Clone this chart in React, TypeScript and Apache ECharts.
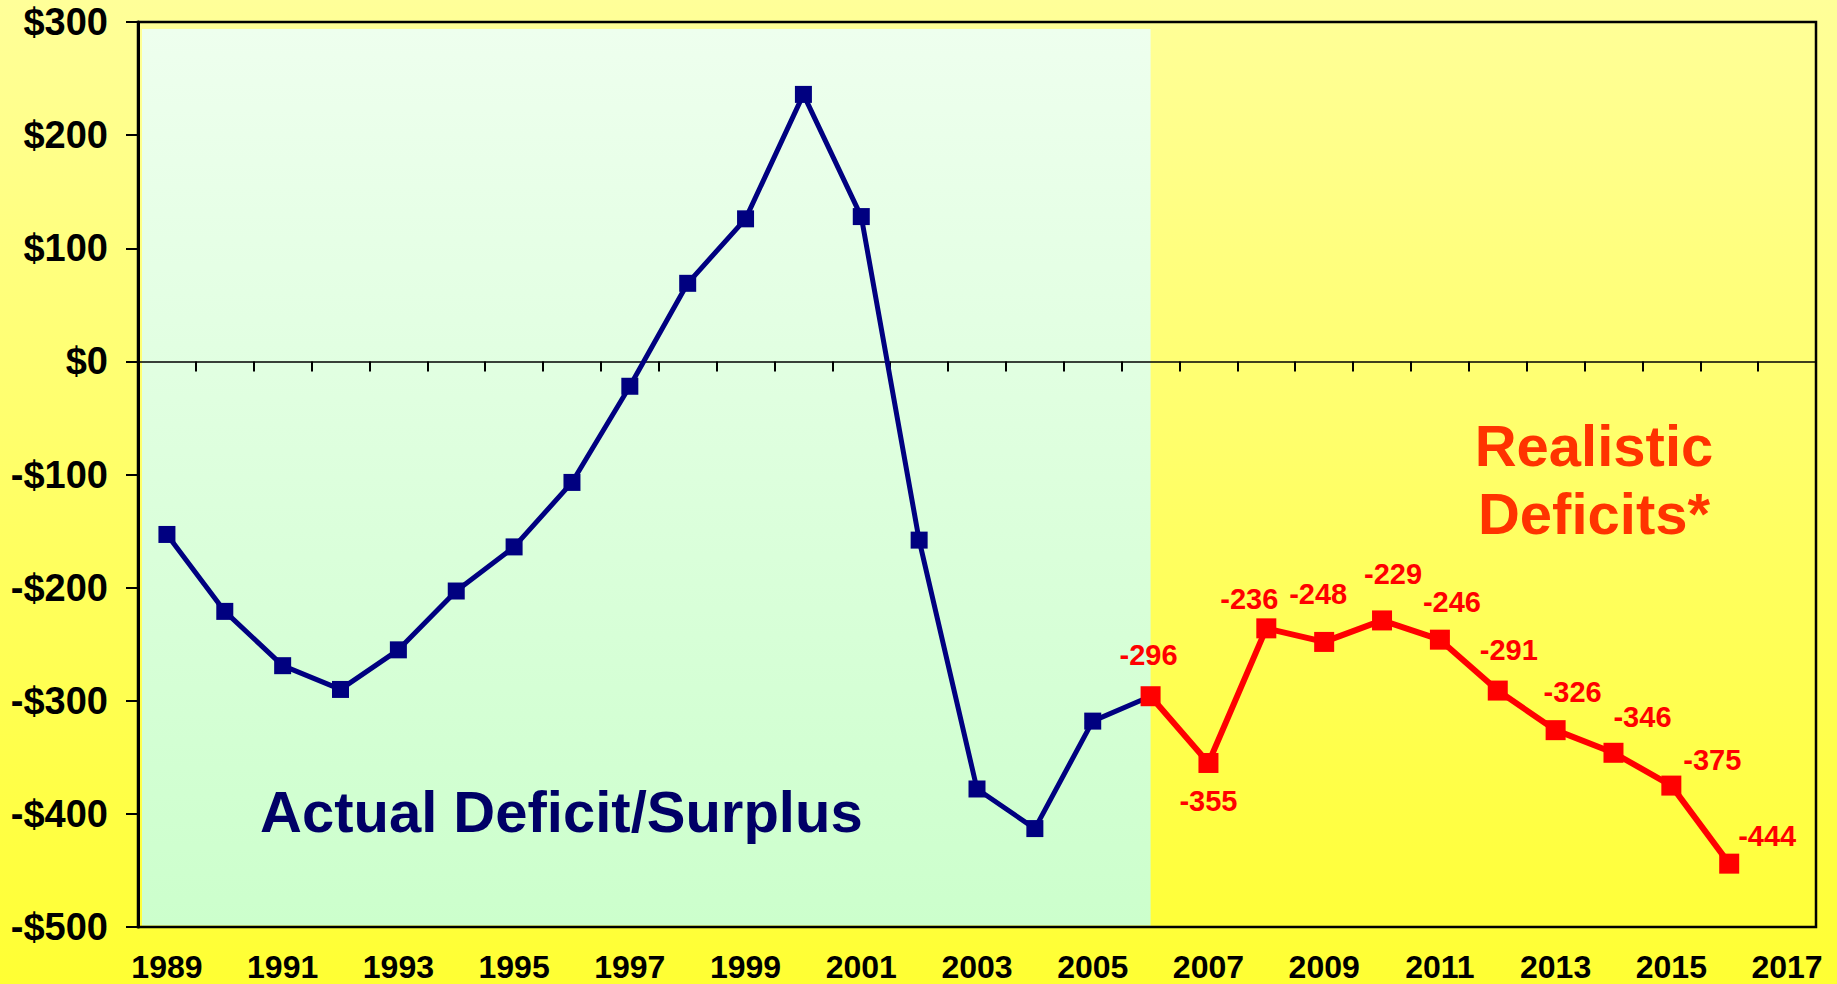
import React, { useEffect, useRef } from "react";
import * as echarts from "echarts";

// ---- data ----
const years = [
  "1989", "1990", "1991", "1992", "1993", "1994", "1995", "1996", "1997", "1998",
  "1999", "2000", "2001", "2002", "2003", "2004", "2005", "2006", "2007", "2008",
  "2009", "2010", "2011", "2012", "2013", "2014", "2015", "2016", "2017",
];
const actualYears = [
  "1989", "1990", "1991", "1992", "1993", "1994", "1995", "1996", "1997",
  "1998", "1999", "2000", "2001", "2002", "2003", "2004", "2005", "2006",
];
const actualValues = [
  -153, -221, -269, -290, -255, -203, -164, -107, -22, 69, 126, 236, 128, -158,
  -378, -413, -318, -296,
];
const realisticYears = [
  "2006", "2007", "2008", "2009", "2010", "2011", "2012", "2013", "2014", "2015", "2016",
];
const realisticValues = [-296, -355, -236, -248, -229, -246, -291, -326, -346, -375, -444];
const yMin = -500;
const yMax = 300;
const yInterval = 100;
const actualTitle = "Actual Deficit/Surplus";
const realisticTitle = ["Realistic", "Deficits*"];

// label offsets (styling) for the red data labels
const redLabelOffsets: number[][] = [
  [-2, -41], [0, 38], [-17, -29], [-6, -48], [11, -46], [12, -38],
  [11, -41], [17, -38], [29, -36], [41, -26], [38, -28],
];

const FONT = "'Liberation Sans', Arial, Helvetica, sans-serif";

export default function App() {
  const ref = useRef<HTMLDivElement>(null);

  useEffect(() => {
    if (!ref.current) return;
    const chart = echarts.init(ref.current, null, { renderer: "svg" });

    const blueData = years.map((y) => {
      const i = actualYears.indexOf(y);
      return i >= 0 ? actualValues[i] : null;
    });
    const redData = years.map((y) => {
      const i = realisticYears.indexOf(y);
      if (i < 0) return null;
      return {
        value: realisticValues[i],
        label: { offset: redLabelOffsets[i] },
      };
    });

    const gridLeft = 138;
    const gridTop = 22;
    const gridRight = 21;
    const gridBottom = 57;

    chart.setOption({
      animation: false,
      backgroundColor: "transparent",
      textStyle: { fontFamily: FONT },
      grid: {
        left: gridLeft,
        top: gridTop,
        right: gridRight,
        bottom: gridBottom,
        show: true,
        borderColor: "#000",
        borderWidth: 2.5,
        backgroundColor: "transparent",
        containLabel: false,
      },
      xAxis: [
        {
          type: "category",
          data: years,
          boundaryGap: true,
          position: "bottom",
          axisLine: { show: false, onZero: false },
          axisTick: { show: false },
          axisLabel: {
            interval: 1,
            fontSize: 32,
            fontWeight: "bold",
            color: "#000",
            fontFamily: FONT,
            margin: 24,
          },
          splitLine: { show: false },
        },
        {
          type: "category",
          data: years,
          boundaryGap: true,
          position: "top",
          axisLine: { show: true, onZero: true, lineStyle: { color: "#000", width: 1.5 } },
          axisTick: { show: true, inside: true, length: 10, interval: 0, lineStyle: { color: "#000", width: 2 } },
          axisLabel: { show: false },
          splitLine: { show: false },
        },
      ],
      yAxis: {
        type: "value",
        min: yMin,
        max: yMax,
        interval: yInterval,
        axisLine: { show: true, lineStyle: { color: "#000", width: 3 } },
        axisTick: { show: true, length: 12, lineStyle: { color: "#000", width: 2 } },
        axisLabel: {
          fontSize: 38,
          fontWeight: "bold",
          color: "#000",
          fontFamily: FONT,
          margin: 30,
          formatter: (v: number) => (v < 0 ? `-$${-v}` : `$${v}`),
        },
        splitLine: { show: false },
      },
      series: [
        {
          type: "line",
          name: "Actual",
          xAxisIndex: 0,
          data: blueData,
          symbol: "rect",
          symbolSize: 17,
          connectNulls: false,
          lineStyle: { color: "#000080", width: 5 },
          itemStyle: { color: "#000080" },
          z: 3,
        },
        {
          type: "line",
          name: "Realistic",
          xAxisIndex: 0,
          data: redData,
          symbol: "rect",
          symbolSize: 20,
          connectNulls: false,
          lineStyle: { color: "#FF0000", width: 6 },
          itemStyle: { color: "#FF0000" },
          label: {
            show: true,
            position: "inside",
            formatter: "{c}",
            fontSize: 29,
            fontWeight: "bold",
            color: "#FF0000",
            fontFamily: FONT,
          },
          z: 4,
        },
      ],
    });

    const x2006 = chart.convertToPixel({ xAxisIndex: 0 }, "2006") as number;
    const plotBottom = 984 - gridBottom;

    chart.setOption({
      graphic: [
        {
          type: "rect",
          silent: true,
          z: -10,
          shape: { x: gridLeft + 4, y: gridTop + 7, width: x2006 - gridLeft - 4, height: plotBottom - gridTop - 8.5 },
          style: {
            fill: new echarts.graphic.LinearGradient(0, 0, 0, 1, [
              { offset: 0, color: "#EEFFEE" },
              { offset: 1, color: "#CCFFCC" },
            ]),
          },
        },
        {
          type: "text",
          silent: true,
          z: 10,
          style: {
            x: 260,
            y: 811,
            text: actualTitle,
            fill: "#000066",
            font: `bold 58px ${FONT}`,
            textAlign: "left",
            verticalAlign: "middle",
          },
        },
        {
          type: "text",
          silent: true,
          z: 10,
          style: {
            x: 1594,
            y: 445,
            text: realisticTitle[0],
            fill: "#FF3300",
            font: `bold 58px ${FONT}`,
            textAlign: "center",
            verticalAlign: "middle",
          },
        },
        {
          type: "text",
          silent: true,
          z: 10,
          style: {
            x: 1594,
            y: 513,
            text: realisticTitle[1],
            fill: "#FF3300",
            font: `bold 58px ${FONT}`,
            textAlign: "center",
            verticalAlign: "middle",
          },
        },
      ],
    });

    return () => chart.dispose();
  }, []);

  return (
    <div
      ref={ref}
      style={{
        position: "absolute",
        left: 0,
        top: 0,
        width: 1837,
        height: 984,
        background: "linear-gradient(to bottom, #FFFF99 0%, #FFFF66 50%, #FFFF33 100%)",
      }}
    />
  );
}
